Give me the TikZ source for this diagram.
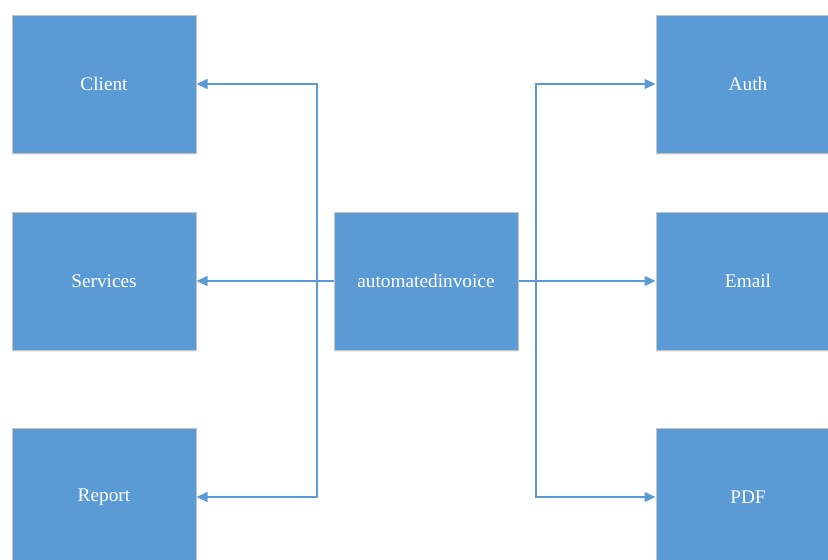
\documentclass[tikz,border=0pt]{standalone}
\usepackage{fontspec}
\setmainfont{Liberation Serif}
\usetikzlibrary{arrows.meta,shadows}
\definecolor{boxblue}{HTML}{5B9BD5}
\definecolor{boxedge}{HTML}{C4C4C4}
\definecolor{lineblue}{HTML}{5B9BD5}
\tikzset{
  module/.style={rectangle, draw=boxedge, line width=1pt, fill=boxblue,
    minimum width=184pt, minimum height=138pt, inner sep=0pt,
    text=white, font=\fontsize{19.3}{22}\selectfont,
    drop shadow={shadow xshift=0pt, shadow yshift=-2pt, opacity=0.07, fill=black}},
  link/.style={draw=lineblue, line width=1.4pt,
    -{Triangle[length=11pt,width=10pt]}}
}
\begin{document}
\begin{tikzpicture}[x=1pt,y=-1pt]
\useasboundingbox (0,0) rectangle (828,560);
\clip (0,0) rectangle (828,560);
\node[module] (client) at (104,84) {Client};
\node[module] (services) at (104,281) {Services};
\node[module] (report) at (104,497) {Report};
\node[module] (core) at (426,281) {automatedinvoice};
\node[module] (auth) at (748,84) {Auth};
\node[module] (email) at (748,281) {Email};
\node[module] (pdf) at (748,497) {PDF};
\coordinate (jl) at (317,281);
\coordinate (jr) at (536,281);
\draw[link] (core.west) -- (jl) |- (client.east);
\draw[link] (core.west) -- (jl) -- (services.east);
\draw[link] (core.west) -- (jl) |- (report.east);
\draw[link] (core.east) -- (jr) |- (auth.west);
\draw[link] (core.east) -- (jr) -- (email.west);
\draw[link] (core.east) -- (jr) |- (pdf.west);
\end{tikzpicture}
\end{document}
